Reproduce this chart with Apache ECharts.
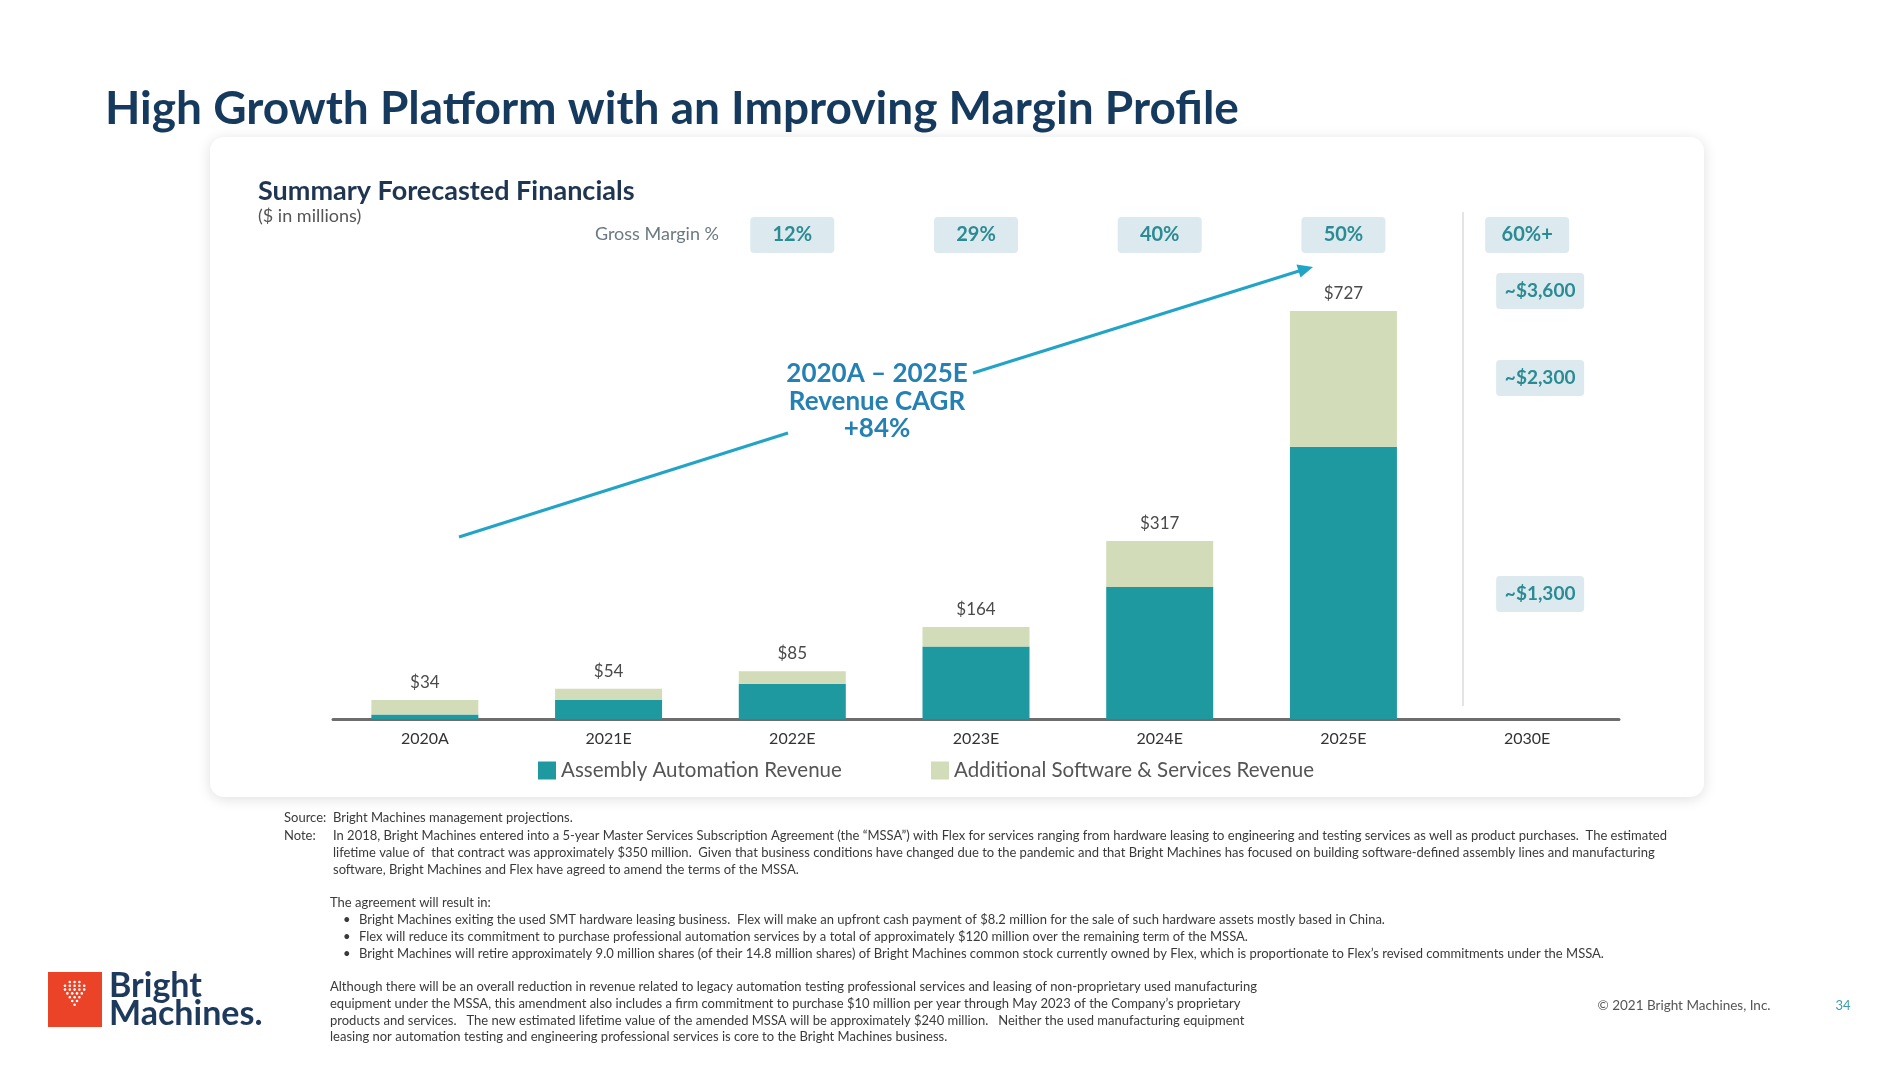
<!DOCTYPE html>
<html>
<head>
<meta charset="utf-8">
<script src="https://cdn.jsdelivr.net/npm/echarts@6/dist/echarts.min.js"></script>
<style>html,body{margin:0;padding:0;background:#fff}#c{width:1900px;height:1066px}</style>
</head>
<body>
<div id="c"></div>
<script>
const categories = ['2020A', '2021E', '2022E', '2023E', '2024E', '2025E', '2030E'];
const assemblyRevenue = [8, 34, 63, 129, 235, 485, null];
const softwareRevenue = [26, 20, 22, 35, 82, 242, null];
const totalRevenue = [34, 54, 85, 164, 317, 727, null];
const grossMargin = ['', '', '12%', '29%', '40%', '50%', '60%+'];
const outlook2030 = ['~$3,600', '~$2,300', '~$1,300'];
const cagrText = ['2020A \u2013 2025E', 'Revenue CAGR', '+84%'];

const TEAL = '#1e999f', BEIGE = '#d3dcb9', NAVY = '#163a5e';
const FONT = 'Lato';

const chart = echarts.init(document.getElementById('c'), null, {renderer: 'canvas'});

const noteLines = [
  'In 2018, Bright Machines entered into a 5-year Master Services Subscription Agreement (the \u201cMSSA\u201d) with Flex for services ranging from hardware leasing to engineering and testing services as well as product purchases.  The estimated',
  'lifetime value of  that contract was approximately $350 million.  Given that business conditions have changed due to the pandemic and that Bright Machines has focused on building software-defined assembly lines and manufacturing',
  'software, Bright Machines and Flex have agreed to amend the terms of the MSSA.'
];
const bullets = [
  'Bright Machines exiting the used SMT hardware leasing business.  Flex will make an upfront cash payment of $8.2 million for the sale of such hardware assets mostly based in China.',
  'Flex will reduce its commitment to purchase professional automation services by a total of approximately $120 million over the remaining term of the MSSA.',
  'Bright Machines will retire approximately 9.0 million shares (of their 14.8 million shares) of Bright Machines common stock currently owned by Flex, which is proportionate to Flex\u2019s revised commitments under the MSSA.'
];
const paraLines = [
  'Although there will be an overall reduction in revenue related to legacy automation testing professional services and leasing of non-proprietary used manufacturing',
  'equipment under the MSSA, this amendment also includes a firm commitment to purchase $10 million per year through May 2023 of the Company\u2019s proprietary',
  'products and services.   The new estimated lifetime value of the amended MSSA will be approximately $240 million.   Neither the used manufacturing equipment',
  'leasing nor automation testing and engineering professional services is core to the Bright Machines business.'
];

function txt(x, y, text, style, extra) {
  return Object.assign({
    type: 'text', z: 50, silent: true,
    style: Object.assign({x: x, y: y, text: text, fontFamily: FONT, verticalAlign: 'middle', textVerticalAlign: 'middle'}, style)
  }, extra || {});
}

const FN = {fontSize: 13, fill: '#3a3a3a', fontFamily: FONT};
const elements = [];
// card
elements.push({type: 'rect', z: -10, silent: true, shape: {x: 210, y: 137, width: 1494, height: 660, r: 14},
  style: {fill: '#fff', shadowBlur: 14, shadowColor: 'rgba(0,0,0,0.13)', shadowOffsetY: 2}});
// page title
elements.push(txt(105, 109, 'High Growth Platform with an Improving Margin Profile', {fontSize: 46, fontWeight: 'bold', fill: NAVY}));
// card titles
elements.push(txt(258, 191, 'Summary Forecasted Financials', {fontSize: 27, fontWeight: 'bold', fill: '#1f3550'}));
elements.push(txt(258, 216, '($ in millions)', {fontSize: 18, fill: '#555'}));
elements.push(txt(719, 234, 'Gross Margin %', {fontSize: 18, fill: '#6b7a80', align: 'right', textAlign: 'right'}));
// divider
elements.push({type: 'line', z: 1, silent: true, shape: {x1: 1463, y1: 212, x2: 1463, y2: 706}, style: {stroke: '#e4e4e4', lineWidth: 2}});
// CAGR arrow
elements.push({type: 'line', z: 5, silent: true, shape: {x1: 459, y1: 537, x2: 788, y2: 433}, style: {stroke: '#22a4c6', lineWidth: 3}});
elements.push({type: 'line', z: 5, silent: true, shape: {x1: 973, y1: 373, x2: 1299, y2: 271}, style: {stroke: '#22a4c6', lineWidth: 3}});
elements.push({type: 'polygon', z: 5, silent: true, shape: {points: [[1313, 267], [1300.5, 277.5], [1296.5, 264.5]]}, style: {fill: '#22a4c6'}});
cagrText.forEach(function (t, i) {
  elements.push(txt(877, 374 + i * 27.5, t, {fontSize: 26, fontWeight: 'bold', fill: '#2580b3', align: 'center', textAlign: 'center'}));
});
// footnotes
elements.push(txt(284, 818, 'Source:  Bright Machines management projections.', FN));
elements.push(txt(284, 836, 'Note:', FN));
noteLines.forEach(function (t, i) { elements.push(txt(333, 836 + i * 17, t, FN)); });
elements.push(txt(330, 903, 'The agreement will result in:', FN));
bullets.forEach(function (t, i) {
  elements.push(txt(343, 920 + i * 17, '\u2022', FN));
  elements.push(txt(359, 920 + i * 17, t, FN));
});
paraLines.forEach(function (t, i) { elements.push(txt(330, 987 + i * 16.7, t, FN)); });
elements.push(txt(1684, 1006, '\u00a9 2021 Bright Machines, Inc.', {fontSize: 13.5, fill: '#555', align: 'center', textAlign: 'center'}));
elements.push(txt(1843, 1006, '34', {fontSize: 13, fill: '#3a9fa8', align: 'center', textAlign: 'center'}));
// logo
elements.push({type: 'rect', z: 50, silent: true, shape: {x: 48, y: 972, width: 54, height: 55}, style: {fill: '#ea4328'}});
const dotRows = [[2, 3], [0, 5], [0, 5], [1, 4], [2, 3], [3, 2], [4, 1]];
dotRows.forEach(function (r, ri) {
  for (let k = 0; k < r[1]; k++) {
    elements.push({type: 'circle', z: 51, silent: true,
      shape: {cx: 65 + (r[0] + 2 * k) * 2.4, cy: 982 + ri * 3.8, r: 1.3}, style: {fill: '#fff'}});
  }
});
elements.push(txt(109, 986, 'Bright', {fontSize: 34, fontWeight: 'bold', fill: '#1d3a5c'}));
elements.push(txt(109, 1014, 'Machines.', {fontSize: 34, fontWeight: 'bold', fill: '#1d3a5c'}));

const option = {
  backgroundColor: '#ffffff',
  animation: false,
  textStyle: {fontFamily: FONT},
  grid: {left: 333, right: 281, top: 270, bottom: 347, containLabel: false},
  legend: [
    {left: 533, top: 755, icon: 'rect', itemWidth: 18, itemHeight: 18, itemGap: 10,
      data: ['Assembly Automation Revenue'], textStyle: {fontSize: 20.5, color: '#555', fontFamily: FONT}},
    {left: 926, top: 755, icon: 'rect', itemWidth: 18, itemHeight: 18, itemGap: 10,
      data: ['Additional Software & Services Revenue'], textStyle: {fontSize: 20.5, color: '#555', fontFamily: FONT}}
  ],
  xAxis: [
    {type: 'category', data: categories, position: 'bottom',
      axisLine: {lineStyle: {color: '#6d6d6d', width: 3}},
      axisTick: {show: false},
      axisLabel: {color: '#333', fontSize: 16, margin: 12, fontFamily: FONT}},
    {type: 'category', data: categories, position: 'top',
      axisLine: {show: false}, axisTick: {show: false},
      axisLabel: {margin: 17, formatter: function (v, i) { return grossMargin[i] ? '{b|' + grossMargin[i] + '}' : ''; },
        rich: {b: {backgroundColor: '#dce9ee', borderRadius: 4, width: 84, height: 36, lineHeight: 36, align: 'center',
          color: '#2a8b93', fontSize: 20, fontWeight: 'bold', fontFamily: FONT}}}}
  ],
  yAxis: {type: 'value', min: 0, max: 800, show: false, splitLine: {show: false}},
  series: [
    {name: 'Assembly Automation Revenue', type: 'bar', stack: 'rev', data: assemblyRevenue, barWidth: 107,
      itemStyle: {color: TEAL}},
    {name: 'Additional Software & Services Revenue', type: 'bar', stack: 'rev', data: softwareRevenue, barWidth: 107,
      itemStyle: {color: BEIGE},
      label: {show: true, position: 'top', distance: 9, fontSize: 17, color: '#4a4a4a', fontFamily: FONT,
        formatter: function (p) { return totalRevenue[p.dataIndex] != null ? '$' + totalRevenue[p.dataIndex] : ''; }}}
  ],
  graphic: {elements: elements}
};
chart.setOption(option);

// 2030E outlook boxes, anchored to the 2030E category position
const x2030 = chart.convertToPixel({xAxisIndex: 0}, '2030E') + 13;
const boxY = [291, 378, 594];
const extra = [];
outlook2030.forEach(function (t, i) {
  extra.push({type: 'rect', z: 40, silent: true, shape: {x: x2030 - 44, y: boxY[i] - 18, width: 88, height: 36, r: 4}, style: {fill: '#dce9ee'}});
  extra.push(txt(x2030, boxY[i], t, {fontSize: 19, fontWeight: 'bold', fill: '#2a8b93', align: 'center', textAlign: 'center'}));
});
chart.setOption({graphic: {elements: elements.concat(extra)}});
</script>
</body>
</html>
